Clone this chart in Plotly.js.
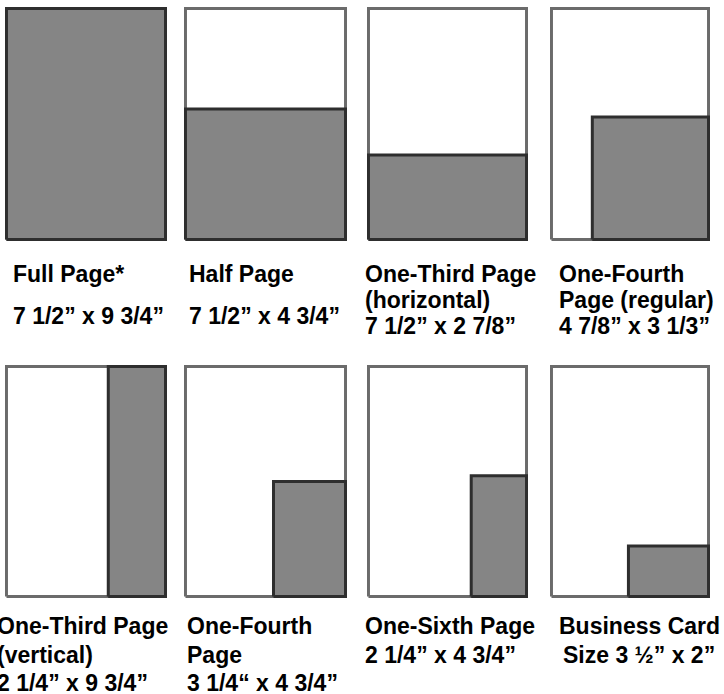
<!DOCTYPE html>
<html>
<head>
<meta charset="utf-8">
<script src="https://cdn.plot.ly/plotly-3.0.1.min.js"></script>
<style>html,body{margin:0;padding:0;background:#fff;}#chart{width:724px;height:694px;}</style>
</head>
<body>
<div id="chart"></div>
<script>
// Ad sizes (labels, one entry per line)
const adNames = [
  ["Full Page*"],
  ["Half Page"],
  ["One-Third Page", "(horizontal)"],
  ["One-Fourth", "Page (regular)"],
  ["One-Third Page", "(vertical)"],
  ["One-Fourth", "Page"],
  ["One-Sixth Page"],
  ["Business Card"]
];
const adSizes = [
  "7 1/2” x 9 3/4”",
  "7 1/2” x 4 3/4”",
  "7 1/2” x 2 7/8”",
  "4 7/8” x 3 1/3”",
  "2 1/4” x 9 3/4”",
  "3 1/4“ x 4 3/4”",
  "2 1/4” x 4 3/4”",
  "Size 3 ½” x 2”"
];
// Shaded ad area inside each page (fractions of page width / height, from left / bottom)
const adLeft   = [0, 0, 0, 0.26, 0.64, 0.55, 0.65, 0.49];
const adRight  = [1, 1, 1, 1, 1, 1, 1, 1];
const adBottom = [0, 0, 0, 0, 0, 0, 0, 0];
const adTop    = [1, 0.565, 0.366, 0.53, 1, 0.50, 0.525, 0.22];

// ---- layout geometry (pixels) ----
const W = 724, H = 694;
const colPx = [[5,167],[184,347],[367,528],[550,710]];
const rowPx = [[7,241],[365,598]];
const pad = 1.5;

const data = [];
const layout = {
  width: W, height: H,
  margin: {l:0, r:0, t:0, b:0},
  paper_bgcolor: '#ffffff', plot_bgcolor: 'rgba(0,0,0,0)',
  showlegend: false,
  annotations: []
};

for (let i = 0; i < 8; i++) {
  const r = Math.floor(i / 4), c = i % 4;
  const [x0, x1] = colPx[c], [y0, y1] = rowPx[r];
  const wpx = x1 - x0, hpx = y1 - y0;
  const sfx = i === 0 ? '' : String(i + 1);
  const xa = 'x' + sfx, ya = 'y' + sfx;
  layout['xaxis' + sfx] = {
    domain: [x0 / W, x1 / W], range: [-pad / wpx, 1 + pad / wpx],
    visible: false, fixedrange: true, anchor: ya
  };
  layout['yaxis' + sfx] = {
    domain: [1 - y1 / H, 1 - y0 / H], range: [-pad / hpx, 1 + pad / hpx],
    visible: false, fixedrange: true, anchor: xa
  };
  // page outline
  data.push({
    type: 'scatter', mode: 'lines', xaxis: xa, yaxis: ya, hoverinfo: 'skip',
    x: [0, 1, 1, 0, 0], y: [0, 0, 1, 1, 0],
    fill: 'toself', fillcolor: '#ffffff',
    line: {color: '#6b6b6b', width: 3}
  });
  // ad area
  const L = adLeft[i], R = adRight[i], B = adBottom[i], T = adTop[i];
  data.push({
    type: 'scatter', mode: 'lines', xaxis: xa, yaxis: ya, hoverinfo: 'skip',
    x: [L, R, R, L, L], y: [B, B, T, T, B],
    fill: 'toself', fillcolor: '#858585',
    line: {color: '#2e2e2e', width: 3}
  });
}

// ---- labels ----
const font = {family: 'Liberation Sans, Arial, sans-serif', size: 23, color: '#000000'};
function addText(txt, px, py, anchor) {
  layout.annotations.push({
    text: '<b>' + txt + '</b>', xref: 'paper', yref: 'paper',
    x: px / W, y: 1 - py / H, xanchor: anchor || 'left', yanchor: 'middle',
    showarrow: false, font: font
  });
}
const textX = [11, 187, 363, 557, -5, 185, 363, 639];
for (let i = 0; i < 8; i++) {
  const r = Math.floor(i / 4);
  const anchor = i === 7 ? 'center' : 'left';
  const names = adNames[i];
  const base = r === 0 ? 274 : 626;
  const step = r === 0 ? 26 : 28.5;
  names.forEach((n, k) => addText(n, textX[i], base + k * step, anchor));
  let sizeY;
  if (names.length === 2) sizeY = base + 2 * step;
  else if (r === 0) sizeY = 316;
  else sizeY = base + step;
  addText(adSizes[i], textX[i], sizeY, anchor);
}

Plotly.newPlot('chart', data, layout, {staticPlot: true, displayModeBar: false});
</script>
</body>
</html>
